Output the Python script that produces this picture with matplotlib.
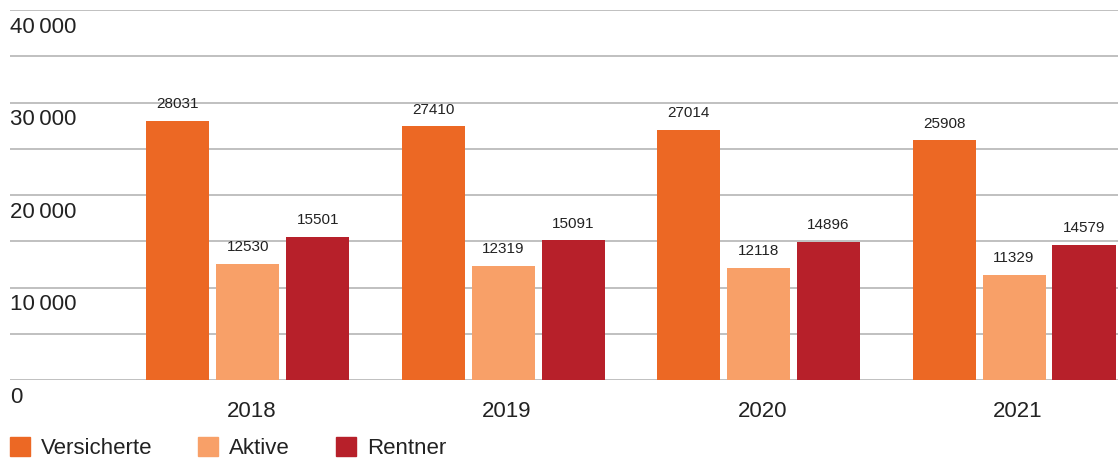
import numpy as np
import matplotlib.pyplot as plt
from matplotlib.patches import Patch

plt.rcParams['font.family'] = ['Liberation Sans', 'DejaVu Sans']

years = ['2018', '2019', '2020', '2021']
versicherte = [28031, 27410, 27014, 25908]
aktive = [12530, 12319, 12118, 11329]
rentner = [15501, 15091, 14896, 14579]
series_names = ['Versicherte', 'Aktive', 'Rentner']
colors = ['#EC6824', '#F8A068', '#B7202A']
y_labels = ['0', '10\u2009000', '20\u2009000', '30\u2009000', '40\u2009000']
text_col = '#222222'

fig = plt.figure(figsize=(11.18, 4.59), dpi=100)
ax = fig.add_axes([10 / 1118, 79 / 459, 1108 / 1118, 370 / 459])

x = np.arange(len(years))
width = 0.247
step = 0.274
for i, (vals, name, c) in enumerate(zip([versicherte, aktive, rentner], series_names, colors)):
    bars = ax.bar(x + (i - 1) * step, vals, width, color=c, label=name, zorder=3)
    for b, v in zip(bars, vals):
        ax.annotate(str(v), (b.get_x() + b.get_width() / 2, v), xytext=(0, 7),
                    textcoords='offset points', ha='center', va='bottom',
                    fontsize=11, color=text_col)

ax.set_xlim(-0.931, 3.407)
ax.set_ylim(0, 40000)
ax.set_yticks(np.arange(0, 40001, 5000))
ax.set_yticklabels([])
ax.yaxis.grid(True, color='#b5b5b5', linewidth=1.2, zorder=0)
ax.tick_params(axis='both', length=0)
for s in ax.spines.values():
    s.set_visible(False)

for v, lab in zip(range(0, 40001, 10000), y_labels):
    ax.annotate(lab, (0, v), xycoords=('axes fraction', 'data'), xytext=(0, -12.5),
                textcoords='offset points', ha='left', va='center',
                fontsize=16, color=text_col)

ax.set_xticks(x + 0.015)
ax.set_xticklabels(years, fontsize=16, color=text_col)
ax.tick_params(axis='x', pad=15)

handles = [Patch(color=c) for c in colors]
fig.legend(handles, series_names, loc='lower left', bbox_to_anchor=(0.009, 0.0),
           ncol=3, frameon=False, fontsize=16, handlelength=0.9, handleheight=0.9,
           handletextpad=0.5, columnspacing=2.05, labelcolor=text_col,
           borderaxespad=0.0, borderpad=0.0)

fig.savefig('out.png', dpi=100)
